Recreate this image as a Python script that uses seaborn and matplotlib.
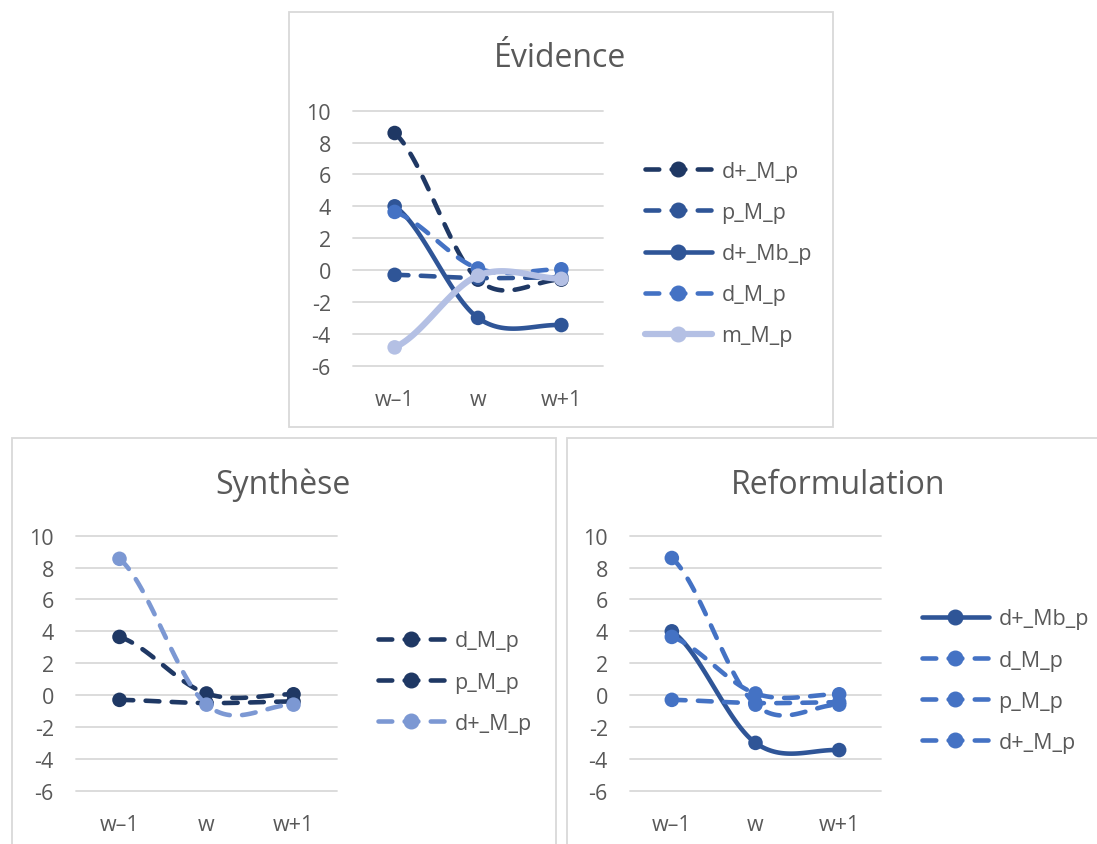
"""
Three smoothed line panels (Évidence / Synthèse / Reformulation), Excel style.
"""
import numpy as np
import matplotlib
matplotlib.use('Agg')
import matplotlib.pyplot as plt
from matplotlib.lines import Line2D
from matplotlib.patches import Rectangle
import seaborn as sns

positions = ["w\u20131", "w", "w+1"]

# Évidence
ev_dplus_M_p = [8.6, -0.6, -0.6]
ev_p_M_p = [-0.3, -0.5, -0.45]
ev_dplus_Mb_p = [4.0, -3.0, -3.45]
ev_d_M_p = [3.65, 0.1, 0.05]
ev_m_M_p = [-4.85, -0.35, -0.55]

# Synthèse
sy_d_M_p = [3.65, 0.1, 0.05]
sy_p_M_p = [-0.3, -0.5, -0.4]
sy_dplus_M_p = [8.55, -0.6, -0.6]

# Reformulation
re_dplus_Mb_p = [4.0, -3.0, -3.45]
re_d_M_p = [3.65, 0.1, 0.05]
re_p_M_p = [-0.3, -0.5, -0.45]
re_dplus_M_p = [8.6, -0.6, -0.6]

NAVY = '#1F3864'
DARK = '#2F5597'
MID = '#4472C4'
LIGHT = '#B4C0E4'
SOFT = '#7C98D3'
TEXT = '#595959'
GRID = '#D9D9D9'

DASH = (0, (3.0, 2.7))
LW = 3.3
W, H = 1097, 845
FS = 15.5

sns.set_theme(style='white')
plt.rcParams['font.family'] = ['Open Sans', 'DejaVu Sans']
plt.rcParams['axes.unicode_minus'] = False


def smooth(y, n=50):
    """Excel-like smoothed curve (Catmull-Rom Bezier) through the points."""
    y = np.asarray(y, float)
    xs, ys = [], []
    t = np.linspace(0, 1, n)
    for i in range(len(y) - 1):
        y0 = y[max(i - 1, 0)]
        y3 = y[min(i + 2, len(y) - 1)]
        c1 = y[i] + (y[i + 1] - y0) / 6
        c2 = y[i + 1] - (y3 - y[i]) / 6
        b = ((1 - t) ** 3 * y[i] + 3 * (1 - t) ** 2 * t * c1
             + 3 * (1 - t) * t ** 2 * c2 + t ** 3 * y[i + 1])
        xs.extend(i + t)
        ys.extend(b)
    return np.array(xs), np.array(ys)


def px_axes(fig, left, top, right, bottom):
    return fig.add_axes([left / W, 1 - bottom / H, (right - left) / W, (bottom - top) / H])


def draw_panel(ax, series):
    for k, (name, vals, color, ls, lw) in enumerate(series):
        xs, ys = smooth(vals)
        ax.plot(xs, ys, color=color, lw=lw, linestyle=ls,
                dash_capstyle='round', solid_capstyle='round', zorder=3 + k)
        sns.scatterplot(x=range(len(vals)), y=vals, ax=ax, color=color, s=110,
                        edgecolor='none', zorder=3.5 + k, legend=False)
    ax.set_xlim(-0.5, 2.5)
    ax.set_ylim(-6, 10)
    ax.set_yticks(range(-6, 11, 2))
    ax.set_xticks(range(len(positions)))
    ax.set_xticklabels(positions)
    ax.grid(axis='y', color=GRID, lw=1.3)
    for gl in ax.yaxis.get_gridlines():
        gl.set_clip_on(False)
    ax.grid(axis='x', visible=False)
    sns.despine(ax=ax, left=True, bottom=True)
    ax.tick_params(axis='y', length=0, pad=16, labelsize=FS, labelcolor=TEXT)
    ax.tick_params(axis='x', length=0, pad=17, labelsize=FS, labelcolor=TEXT)
    ax.set_facecolor('none')


def add_legend(fig, series, x, y):
    handles = [Line2D([], [], color=c, lw=lw, linestyle=ls, marker='o', markersize=10.5,
                      dash_capstyle='round', solid_capstyle='round', label=name)
               for name, vals, c, ls, lw in series]
    fig.legend(handles=handles, loc='upper left', bbox_to_anchor=(x / W, 1 - y / H),
               frameon=False, fontsize=FS, labelcolor=TEXT, numpoints=1,
               handlelength=3.1, handletextpad=0.45, labelspacing=0.93,
               borderpad=0, borderaxespad=0)


fig = plt.figure(figsize=(W / 100, H / 100), dpi=100)

# panel frames
for (l, t, r, b) in [(288.5, 12.5, 833, 428), (11.5, 439, 556, 900), (566.5, 439, 1200, 900)]:
    fig.add_artist(Rectangle((l / W, 1 - b / H), (r - l) / W, (b - t) / H,
                             transform=fig.transFigure, fill=False,
                             edgecolor=GRID, lw=1.3, zorder=0))

ev_series = [
    ("d+_M_p", ev_dplus_M_p, NAVY, DASH, LW),
    ("p_M_p", ev_p_M_p, DARK, DASH, LW),
    ("d+_Mb_p", ev_dplus_Mb_p, DARK, '-', LW),
    ("d_M_p", ev_d_M_p, MID, DASH, LW),
    ("m_M_p", ev_m_M_p, LIGHT, '-', 4.5),
]
sy_series = [
    ("d_M_p", sy_d_M_p, NAVY, DASH, LW),
    ("p_M_p", sy_p_M_p, NAVY, DASH, LW),
    ("d+_M_p", sy_dplus_M_p, SOFT, DASH, LW),
]
re_series = [
    ("d+_Mb_p", re_dplus_Mb_p, DARK, '-', LW),
    ("d_M_p", re_d_M_p, MID, DASH, LW),
    ("p_M_p", re_p_M_p, MID, DASH, LW),
    ("d+_M_p", re_dplus_M_p, MID, DASH, LW),
]

ax1 = px_axes(fig, 353, 111.7, 603, 366.7)
draw_panel(ax1, ev_series)
fig.text(560 / W, 1 - 67 / H, "Évidence", ha='center', va='baseline', fontsize=23, color=TEXT)
add_legend(fig, ev_series, 645, 162)

ax2 = px_axes(fig, 76, 536.7, 337, 791.7)
draw_panel(ax2, sy_series)
fig.text(283 / W, 1 - 494 / H, "Synthèse", ha='center', va='baseline', fontsize=23, color=TEXT)
add_legend(fig, sy_series, 378, 631.5)

ax3 = px_axes(fig, 630, 536.7, 881, 791.7)
draw_panel(ax3, re_series)
fig.text(838 / W, 1 - 494 / H, "Reformulation", ha='center', va='baseline', fontsize=23, color=TEXT)
add_legend(fig, re_series, 922, 609.5)

fig.savefig('out.png', dpi=100, facecolor='white')
